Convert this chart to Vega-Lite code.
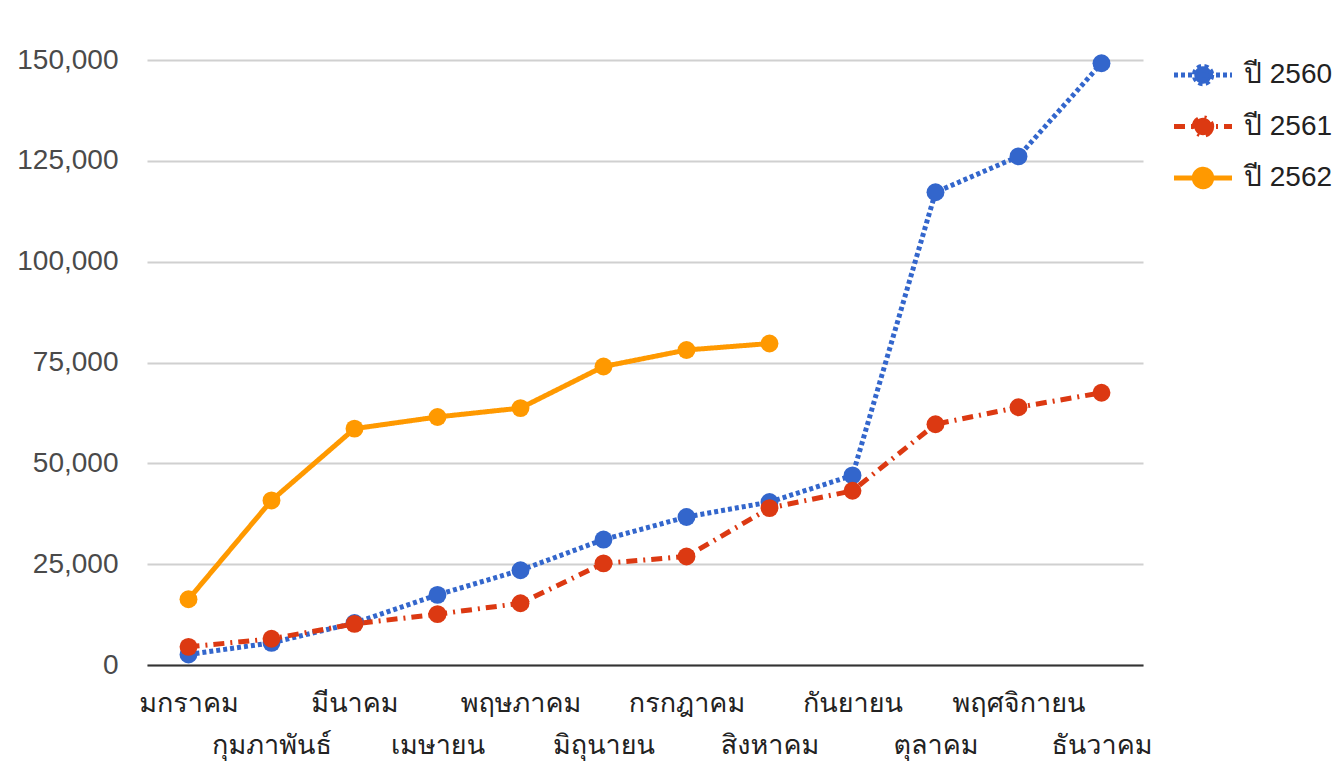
{
  "$schema": "https://vega.github.io/schema/vega-lite/v6.json",
  "width": 996,
  "height": 605,
  "autosize": {"type": "none"},
  "padding": {"left": 147, "top": 60, "right": 196, "bottom": 112},
  "background": "#ffffff",
  "config": {
    "view": {"stroke": null},
    "font": "Liberation Sans"
  },
  "data": {
    "values": [
      {"เดือน": "มกราคม", "ปี": "ปี 2560", "จำนวน": 2600},
      {"เดือน": "กุมภาพันธ์", "ปี": "ปี 2560", "จำนวน": 5500},
      {"เดือน": "มีนาคม", "ปี": "ปี 2560", "จำนวน": 10400},
      {"เดือน": "เมษายน", "ปี": "ปี 2560", "จำนวน": 17400},
      {"เดือน": "พฤษภาคม", "ปี": "ปี 2560", "จำนวน": 23500},
      {"เดือน": "มิถุนายน", "ปี": "ปี 2560", "จำนวน": 31100},
      {"เดือน": "กรกฎาคม", "ปี": "ปี 2560", "จำนวน": 36700},
      {"เดือน": "สิงหาคม", "ปี": "ปี 2560", "จำนวน": 40400},
      {"เดือน": "กันยายน", "ปี": "ปี 2560", "จำนวน": 47000},
      {"เดือน": "ตุลาคม", "ปี": "ปี 2560", "จำนวน": 117200},
      {"เดือน": "พฤศจิกายน", "ปี": "ปี 2560", "จำนวน": 126100},
      {"เดือน": "ธันวาคม", "ปี": "ปี 2560", "จำนวน": 149200},
      {"เดือน": "มกราคม", "ปี": "ปี 2561", "จำนวน": 4500},
      {"เดือน": "กุมภาพันธ์", "ปี": "ปี 2561", "จำนวน": 6500},
      {"เดือน": "มีนาคม", "ปี": "ปี 2561", "จำนวน": 10200},
      {"เดือน": "เมษายน", "ปี": "ปี 2561", "จำนวน": 12600},
      {"เดือน": "พฤษภาคม", "ปี": "ปี 2561", "จำนวน": 15300},
      {"เดือน": "มิถุนายน", "ปี": "ปี 2561", "จำนวน": 25200},
      {"เดือน": "กรกฎาคม", "ปี": "ปี 2561", "จำนวน": 26900},
      {"เดือน": "สิงหาคม", "ปี": "ปี 2561", "จำนวน": 38900},
      {"เดือน": "กันยายน", "ปี": "ปี 2561", "จำนวน": 43200},
      {"เดือน": "ตุลาคม", "ปี": "ปี 2561", "จำนวน": 59700},
      {"เดือน": "พฤศจิกายน", "ปี": "ปี 2561", "จำนวน": 63900},
      {"เดือน": "ธันวาคม", "ปี": "ปี 2561", "จำนวน": 67500},
      {"เดือน": "มกราคม", "ปี": "ปี 2562", "จำนวน": 16300},
      {"เดือน": "กุมภาพันธ์", "ปี": "ปี 2562", "จำนวน": 40800},
      {"เดือน": "มีนาคม", "ปี": "ปี 2562", "จำนวน": 58600},
      {"เดือน": "เมษายน", "ปี": "ปี 2562", "จำนวน": 61500},
      {"เดือน": "พฤษภาคม", "ปี": "ปี 2562", "จำนวน": 63700},
      {"เดือน": "มิถุนายน", "ปี": "ปี 2562", "จำนวน": 74000},
      {"เดือน": "กรกฎาคม", "ปี": "ปี 2562", "จำนวน": 78100},
      {"เดือน": "สิงหาคม", "ปี": "ปี 2562", "จำนวน": 79700}
    ]
  },
  "encoding": {
    "x": {
      "field": "เดือน",
      "type": "ordinal",
      "sort": ["มกราคม", "กุมภาพันธ์", "มีนาคม", "เมษายน", "พฤษภาคม", "มิถุนายน", "กรกฎาคม", "สิงหาคม", "กันยายน", "ตุลาคม", "พฤศจิกายน", "ธันวาคม"],
      "scale": {"type": "point", "padding": 0.5},
      "axis": {
        "title": null,
        "labelAngle": 0,
        "ticks": false,
        "grid": false,
        "domainColor": "#333333",
        "domainWidth": 2,
        "labelFont": "Tahoma, Loma, Garuda, Noto Sans Thai, Noto Sans, sans-serif",
        "labelFontSize": 27,
        "labelColor": "#222222",
        "labelBaseline": "middle",
        "labelPadding": {
          "condition": {"test": "indexof(['กุมภาพันธ์','เมษายน','มิถุนายน','สิงหาคม','ตุลาคม','ธันวาคม'], datum.value) >= 0", "value": 80},
          "value": 38
        }
      }
    },
    "y": {
      "field": "จำนวน",
      "type": "quantitative",
      "scale": {"domain": [0, 150000], "nice": false},
      "axis": {
        "title": null,
        "values": [0, 25000, 50000, 75000, 100000, 125000, 150000],
        "format": ",d",
        "domain": false,
        "ticks": false,
        "labelPadding": 29,
        "labelFontSize": 28,
        "labelColor": "#4a4a4a",
        "gridColor": "#d0d0d0",
        "gridWidth": 2
      }
    },
    "color": {
      "field": "ปี",
      "type": "nominal",
      "scale": {"domain": ["ปี 2560", "ปี 2561", "ปี 2562"], "range": ["#3366cc", "#dc3912", "#ff9900"]},
      "legend": {
        "title": null,
        "orient": "none",
        "legendX": 1039,
        "legendY": -2,
        "padding": 0,
        "labelFontSize": 28,
        "labelColor": "#222222",
        "labelOffset": 24,
        "rowPadding": 13.5,
        "symbolType": "M-2,0H2M0.6,0A0.6,0.6,0,1,1,-0.6,0A0.6,0.6,0,1,1,0.6,0Z",
        "symbolSize": 841,
        "symbolStrokeWidth": 5
      }
    },
    "strokeDash": {
      "field": "ปี",
      "type": "nominal",
      "scale": {"domain": ["ปี 2560", "ปี 2561", "ปี 2562"], "range": [[4, 3], [11, 6, 2, 6], [1, 0]]},
      "legend": null
    }
  },
  "layer": [
    {
      "mark": {"type": "line"},
      "encoding": {
        "strokeWidth": {
          "field": "ปี",
          "type": "nominal",
          "scale": {"domain": ["ปี 2560", "ปี 2561", "ปี 2562"], "range": [5, 5, 6.5]},
          "legend": null
        }
      }
    },
    {
      "mark": {"type": "point", "filled": true, "opacity": 1, "size": 320},
      "encoding": {"strokeDash": {"value": [1, 0]}}
    }
  ]
}
